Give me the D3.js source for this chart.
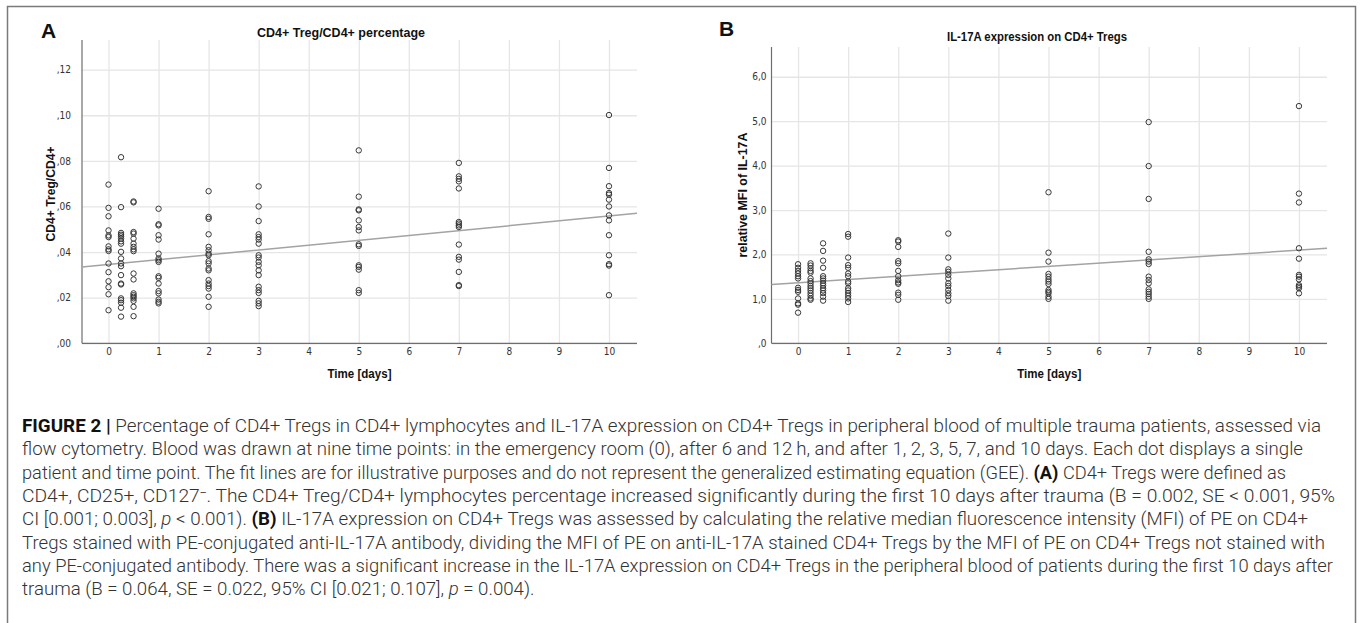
<!DOCTYPE html>
<html>
<head>
<meta charset="utf-8">
<style>
  body { margin: 0; background: #fff; }
  .tick text { fill: #333; font-family: "Liberation Sans Narrow", "DejaVu Sans Condensed", "Liberation Sans", sans-serif; font-size: 10px; }
  .ttl { font-family: "Liberation Sans", Arial, sans-serif; font-weight: bold; fill: #111; }
  .cap { font-family: Roboto, "Liberation Sans", Arial, sans-serif; font-weight: 300; font-size: 18px; fill: #333; }
</style>
</head>
<body>
<svg width="1360" height="623"></svg>
<script src="https://d3js.org/d3.v7.min.js"></script>
<script>
// time points (days): ER, 6 h, 12 h, then days
var timePoints = [0, 0.25, 0.5, 1, 2, 3, 5, 7, 10];
var xTicks = [0, 1, 2, 3, 4, 5, 6, 7, 8, 9, 10];

// panel A - CD4+ Treg / CD4+ (one array per time point)
var tregPct = [
  [0.0696, 0.0594, 0.0557, 0.0495, 0.0473, 0.0466, 0.0425, 0.0412, 0.0405, 0.0350, 0.0312, 0.0272, 0.0246, 0.0215, 0.0145],
  [0.0816, 0.0597, 0.0484, 0.0476, 0.0469, 0.0459, 0.0447, 0.0437, 0.0401, 0.0372, 0.0350, 0.0338, 0.0299, 0.0262, 0.0258, 0.0197, 0.0189, 0.0178, 0.0156, 0.0117],
  [0.0622, 0.0618, 0.0488, 0.0481, 0.0459, 0.0437, 0.0423, 0.0412, 0.0404, 0.0306, 0.0280, 0.0219, 0.0211, 0.0204, 0.0197, 0.0186, 0.0160, 0.0119],
  [0.0590, 0.0522, 0.0517, 0.0474, 0.0455, 0.0393, 0.0372, 0.0364, 0.0357, 0.0294, 0.0287, 0.0262, 0.0229, 0.0219, 0.0192, 0.0182, 0.0175],
  [0.0667, 0.0554, 0.0546, 0.0478, 0.0423, 0.0408, 0.0393, 0.0386, 0.0360, 0.0350, 0.0328, 0.0320, 0.0277, 0.0262, 0.0251, 0.0240, 0.0204, 0.0160],
  [0.0688, 0.0600, 0.0536, 0.0478, 0.0466, 0.0455, 0.0437, 0.0386, 0.0376, 0.0357, 0.0342, 0.0320, 0.0299, 0.0248, 0.0233, 0.0221, 0.0186, 0.0175, 0.0163],
  [0.0846, 0.0643, 0.0587, 0.0583, 0.0539, 0.0510, 0.0495, 0.0434, 0.0427, 0.0342, 0.0335, 0.0323, 0.0233, 0.0221],
  [0.0791, 0.0732, 0.0721, 0.0710, 0.0679, 0.0532, 0.0525, 0.0517, 0.0510, 0.0433, 0.0379, 0.0367, 0.0313, 0.0255, 0.0251],
  [0.1001, 0.0769, 0.0689, 0.0659, 0.0652, 0.0630, 0.0600, 0.0561, 0.0539, 0.0474, 0.0386, 0.0347, 0.0341, 0.0211]
];
var tregTicks = [0, 0.02, 0.04, 0.06, 0.08, 0.10, 0.12];

// panel B - relative MFI of IL-17A
var il17Mfi = [
  [1.78, 1.70, 1.63, 1.57, 1.51, 1.46, 1.25, 1.20, 1.16, 1.01, 0.90, 0.87, 0.69],
  [1.80, 1.75, 1.69, 1.63, 1.59, 1.46, 1.40, 1.35, 1.29, 1.24, 1.19, 1.13, 1.07, 1.01, 0.98],
  [2.25, 2.08, 1.86, 1.70, 1.51, 1.46, 1.41, 1.35, 1.30, 1.24, 1.19, 1.13, 1.05, 0.96],
  [2.46, 2.40, 1.93, 1.76, 1.70, 1.57, 1.51, 1.39, 1.35, 1.24, 1.19, 1.13, 1.07, 1.01, 0.93],
  [2.32, 2.29, 2.17, 1.85, 1.80, 1.63, 1.51, 1.42, 1.37, 1.34, 1.14, 1.09, 0.98],
  [2.47, 1.93, 1.665, 1.61, 1.54, 1.46, 1.35, 1.29, 1.20, 1.125, 1.065, 0.96],
  [3.40, 2.04, 1.84, 1.56, 1.50, 1.44, 1.39, 1.335, 1.20, 1.16, 1.125, 1.05, 1.00],
  [4.98, 3.99, 3.25, 2.06, 1.89, 1.84, 1.785, 1.50, 1.425, 1.35, 1.215, 1.16, 1.11, 1.05, 1.00],
  [5.34, 3.37, 3.17, 2.14, 1.905, 1.54, 1.50, 1.44, 1.31, 1.275, 1.24, 1.125]
];
var mfiTicks = [0, 1, 2, 3, 4, 5, 6];

var captionLines = [
  "**FIGURE 2 |** Percentage of CD4+ Tregs in CD4+ lymphocytes and IL-17A expression on CD4+ Tregs in peripheral blood of multiple trauma patients, assessed via",
  "flow cytometry. Blood was drawn at nine time points: in the emergency room (0), after 6 and 12\u2009h, and after 1, 2, 3, 5, 7, and 10 days. Each dot displays a single",
  "patient and time point. The fit lines are for illustrative purposes and do not represent the generalized estimating equation (GEE). **(A)** CD4+ Tregs were defined as",
  "CD4+, CD25+, CD127\u207B. The CD4+ Treg/CD4+ lymphocytes percentage increased significantly during the first 10 days after trauma (B = 0.002, SE < 0.001, 95%",
  "CI [0.001; 0.003], _p_ < 0.001). **(B)** IL-17A expression on CD4+ Tregs was assessed by calculating the relative median fluorescence intensity (MFI) of PE on CD4+",
  "Tregs stained with PE-conjugated anti-IL-17A antibody, dividing the MFI of PE on anti-IL-17A stained CD4+ Tregs by the MFI of PE on CD4+ Tregs not stained with",
  "any PE-conjugated antibody. There was a significant increase in the IL-17A expression on CD4+ Tregs in the peripheral blood of patients during the first 10 days after",
  "trauma (B = 0.064, SE = 0.022, 95% CI [0.021; 0.107], _p_ = 0.004)."
];
// right end of each ragged line (last line is left natural)
var captionEnds = [1321, 1303, 1286, 1335, 1308, 1325, 1333, null];

var svg = d3.select("svg");

// outer frame
svg.append("rect")
  .attr("x", 7.5).attr("y", 6.5)
  .attr("width", 1348).attr("height", 620)
  .attr("fill", "none").attr("stroke", "#7a7a7a").attr("stroke-width", 1.5);

var xDomain = [-0.53, 10.56];

function commaFmt(digits) {
  var f = d3.format("." + digits + "f");
  return function(d) {
    var s = f(d).replace(".", ",");
    return s.charAt(0) === "0" ? s.slice(1) : s;
  };
}

function drawPanel(p) {
  var g = svg.append("g");
  var x = d3.scaleLinear().domain(xDomain).range([p.left, p.right]);
  var y = d3.scaleLinear().domain([0, p.yMax]).range([p.bottom, p.top]);

  // grid + labels
  g.append("g")
    .attr("transform", "translate(0," + p.bottom + ")")
    .call(d3.axisBottom(x).tickValues(xTicks).tickSize(-(p.bottom - p.top)).tickPadding(5).tickFormat(d3.format("d")))
    .call(function(a) { a.select(".domain").remove(); })
    .call(function(a) { a.selectAll(".tick line").attr("stroke", "#e6e6e6").attr("stroke-width", 1.3); });

  g.append("g")
    .attr("transform", "translate(" + p.left + ",0)")
    .call(d3.axisLeft(y).tickValues(p.ticks).tickSize(-(p.right - p.left)).tickPadding(p.pad).tickFormat(p.fmt))
    .call(function(a) { a.select(".domain").remove(); })
    .call(function(a) { a.selectAll(".tick line").attr("stroke", "#e6e6e6").attr("stroke-width", 1.3); });

  // axis lines
  g.append("line").attr("x1", p.left).attr("x2", p.right).attr("y1", p.bottom).attr("y2", p.bottom)
    .attr("stroke", "#6e6e6e").attr("stroke-width", 1.2);
  g.append("line").attr("x1", p.left).attr("x2", p.left).attr("y1", p.top).attr("y2", p.bottom)
    .attr("stroke", "#6e6e6e").attr("stroke-width", 1.2);

  var pts = [];
  p.values.forEach(function(col, i) {
    col.forEach(function(v) { pts.push({t: timePoints[i], v: v}); });
  });

  // least squares fit line
  var mx = d3.mean(pts, function(d) { return d.t; });
  var my = d3.mean(pts, function(d) { return d.v; });
  var sxy = d3.sum(pts, function(d) { return (d.t - mx) * (d.v - my); });
  var sxx = d3.sum(pts, function(d) { return (d.t - mx) * (d.t - mx); });
  var b = sxy / sxx, a0 = my - b * mx;
  g.append("line")
    .attr("x1", x(xDomain[0])).attr("y1", y(a0 + b * xDomain[0]))
    .attr("x2", x(xDomain[1])).attr("y2", y(a0 + b * xDomain[1]))
    .attr("stroke", "#a3a3a3").attr("stroke-width", 1.5);

  g.append("g").selectAll("circle")
    .data(pts).enter().append("circle")
    .attr("cx", function(d) { return x(d.t); })
    .attr("cy", function(d) { return y(d.v); })
    .attr("r", 2.7)
    .attr("fill", "none").attr("stroke", "#383838").attr("stroke-width", 1);

  // titles
  g.append("text").attr("class", "ttl").attr("x", p.letterX).attr("y", p.letterY)
    .style("font-size", "21px").text(p.letter);
  g.append("text").attr("class", "ttl").attr("x", p.titleX).attr("y", p.titleY)
    .style("font-size", "12px").attr("text-anchor", "middle")
    .attr("textLength", p.titleW).attr("lengthAdjust", "spacingAndGlyphs").text(p.title);
  g.append("text").attr("class", "ttl")
    .attr("transform", "translate(" + p.yTitleX + "," + p.yTitleY + ") rotate(-90)")
    .style("font-size", "12.5px").attr("text-anchor", "middle")
    .attr("textLength", p.yTitleW).attr("lengthAdjust", "spacingAndGlyphs").text(p.yTitle);
  g.append("text").attr("class", "ttl")
    .attr("x", (p.left + p.right) / 2).attr("y", 378)
    .style("font-size", "12.5px").attr("text-anchor", "middle")
    .attr("textLength", 64).attr("lengthAdjust", "spacingAndGlyphs").text("Time [days]");
}

drawPanel({
  left: 82, right: 637, top: 40, bottom: 343.3, yMax: 0.133,
  ticks: tregTicks, fmt: commaFmt(2), pad: 11, values: tregPct,
  letter: "A", letterX: 41, letterY: 38,
  title: "CD4+ Treg/CD4+ percentage", titleX: 341, titleY: 37, titleW: 168,
  yTitle: "CD4+ Treg/CD4+", yTitleX: 54.5, yTitleY: 194, yTitleW: 95
});

drawPanel({
  left: 771.5, right: 1327, top: 47, bottom: 343.3, yMax: 6.67,
  ticks: mfiTicks, fmt: commaFmt(1), pad: 5, values: il17Mfi,
  letter: "B", letterX: 719, letterY: 36,
  title: "IL-17A expression on CD4+ Tregs", titleX: 1037, titleY: 41, titleW: 180,
  yTitle: "relative MFI of IL-17A", yTitleX: 746.5, yTitleY: 195, yTitleW: 125
});

// caption
var cap = svg.append("g");
var capRows = captionLines.map(function(line, i) {
  var t = cap.append("text").attr("class", "cap")
    .attr("x", 22).attr("y", 432 + i * 23.3);
  line.split(/(\*\*[^*]+\*\*|_[^_]+_)/).forEach(function(seg) {
    if (!seg) return;
    if (seg.indexOf("**") === 0) {
      t.append("tspan").attr("font-weight", "bold").attr("fill", "#111").text(seg.slice(2, -2));
    } else if (seg.charAt(0) === "_") {
      t.append("tspan").attr("font-style", "italic").text(seg.slice(1, -1));
    } else {
      t.append("tspan").text(seg);
    }
  });
  return t;
});
var natural = capRows.map(function(t) { return t.node().getComputedTextLength(); });
var squeeze = d3.median(captionEnds.slice(0, 7).map(function(e, i) { return (e - 22) / natural[i]; }));
capRows.forEach(function(t, i) {
  var w = captionEnds[i] ? captionEnds[i] - 22 : natural[i] * squeeze;
  t.attr("textLength", w).attr("lengthAdjust", "spacingAndGlyphs");
});
</script>
</body>
</html>
